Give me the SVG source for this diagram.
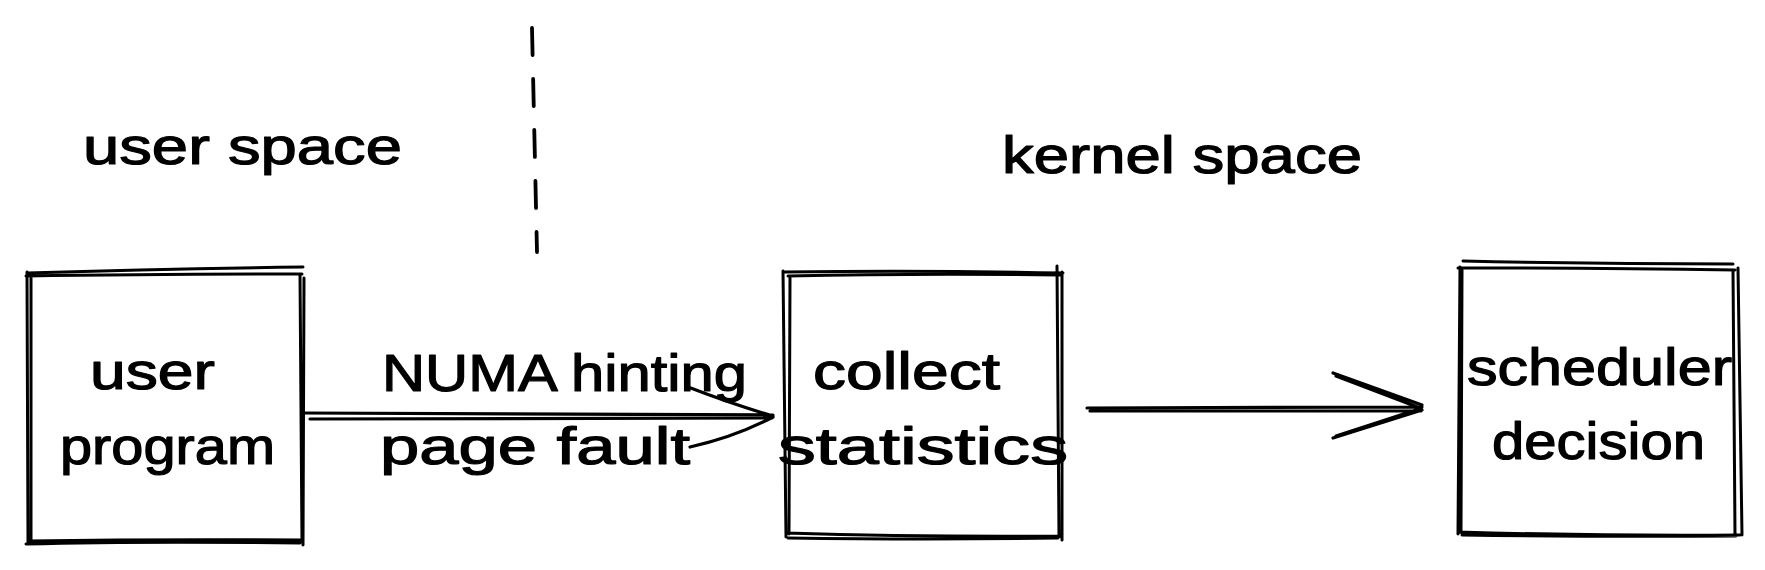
<svg xmlns="http://www.w3.org/2000/svg" width="1765" height="570" viewBox="0 0 1765 570">
<style>
.s{fill:none;stroke:#000;stroke-width:3;stroke-linecap:round;stroke-linejoin:round}
.h{fill:none;stroke:#000;stroke-width:3.2;stroke-linecap:round;stroke-linejoin:round}
.d{fill:none;stroke:#000;stroke-width:3.8;stroke-linecap:round;stroke-dasharray:27 24}
.t{font-family:"Liberation Sans",Arial,sans-serif;font-size:52px;fill:#000;stroke:#000;stroke-width:1.2;stroke-linejoin:round}
</style>
<rect width="1765" height="570" fill="#fff"/>
<g id="divider">
<path class="d" d="M532 28 L537 252"/>
</g>
<g id="label-user-space">
<text class="t" x="83" y="164" textLength="319" lengthAdjust="spacingAndGlyphs">user space</text>
</g>
<g id="label-kernel-space">
<text class="t" x="1002" y="173" textLength="360" lengthAdjust="spacingAndGlyphs">kernel space</text>
</g>
<g id="node-user-program">
<path class="s" d="M27 273 Q160 269 303 267 M26 276 Q150 274 302 274 M27 272 L28 543 M31 274 L31 540 M300 274 L302 542 M304 278 L303 545 M28 541 Q160 539 303 540 M26 544 Q140 541 300 543"/>
<text class="t" x="90" y="389" textLength="125" lengthAdjust="spacingAndGlyphs">user</text>
<text class="t" x="60" y="464" textLength="215" lengthAdjust="spacingAndGlyphs">program</text>
</g>
<g id="node-collect-statistics">
<path class="s" d="M784 272 Q920 270 1063 273 M788 276 Q920 273 1060 275 M783 271 L786 537 M790 276 L789 534 M1057 266 L1059 537 M1062 272 L1062 540 M786 533 Q920 537 1060 536 M788 538 Q930 540 1058 538"/>
<text class="t" x="813" y="389" textLength="187" lengthAdjust="spacingAndGlyphs">collect</text>
<text class="t" x="778" y="464" textLength="290" lengthAdjust="spacingAndGlyphs">statistics</text>
</g>
<g id="node-scheduler-decision">
<path class="s" d="M1463 261 Q1600 264 1733 264 M1458 268 Q1600 268 1735 270 M1460 267 L1458 534 M1462 270 L1461 531 M1733 270 L1735 534 M1738 268 L1742 535 M1458 532 Q1600 536 1740 535 M1462 535 Q1600 537 1736 536"/>
<text class="t" x="1467" y="385" textLength="265" lengthAdjust="spacingAndGlyphs">scheduler</text>
<text class="t" x="1492" y="459" textLength="213" lengthAdjust="spacingAndGlyphs">decision</text>
</g>
<g id="connectors">
<path class="h" d="M302 413 L773 415 M310 419 L772 418 M688 387 Q735 405 773 416 M690 447 Q735 437 773 417"/>
<text class="t" x="382" y="391" textLength="365" lengthAdjust="spacingAndGlyphs">NUMA hinting</text>
<text class="t" x="380" y="464" textLength="310" lengthAdjust="spacingAndGlyphs">page fault</text>
<path class="h" d="M1087 408 L1422 407 M1090 411 L1421 411 M1333 373 L1422 405 M1336 376 L1420 408 M1333 438 L1422 410 M1336 436 L1419 409"/>
</g>
</svg>
